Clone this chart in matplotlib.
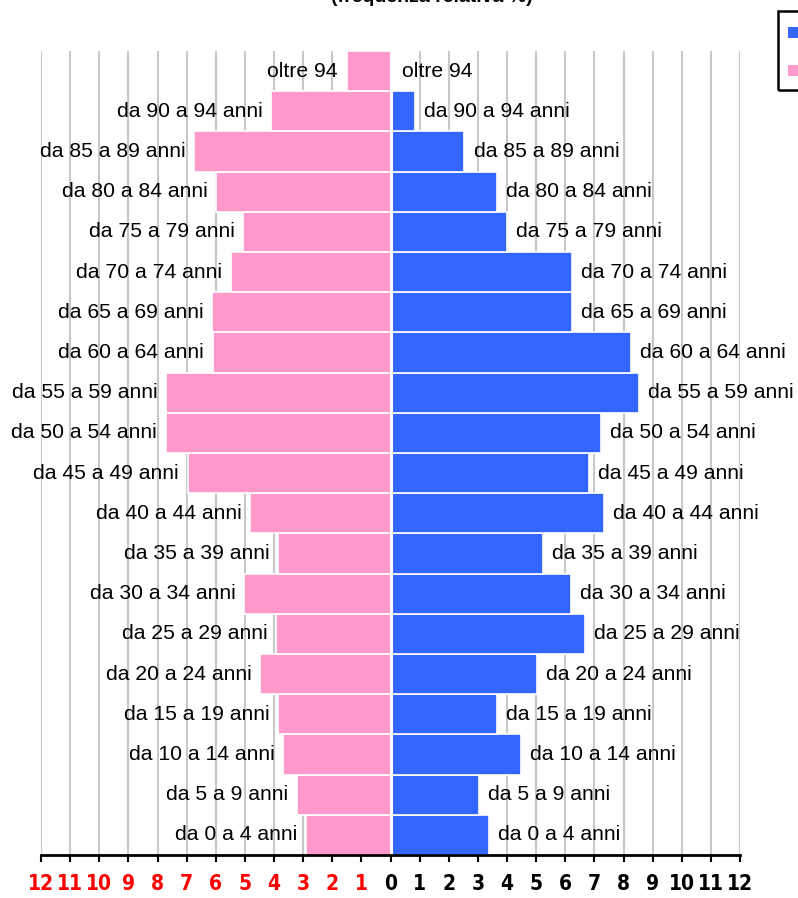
import matplotlib
matplotlib.use('Agg')
import matplotlib.pyplot as plt
from matplotlib import font_manager
from matplotlib.patches import Rectangle

# classi di eta, dal basso verso l'alto
classi = ['da 0 a 4 anni', 'da 5 a 9 anni', 'da 10 a 14 anni', 'da 15 a 19 anni',
          'da 20 a 24 anni', 'da 25 a 29 anni', 'da 30 a 34 anni', 'da 35 a 39 anni',
          'da 40 a 44 anni', 'da 45 a 49 anni', 'da 50 a 54 anni', 'da 55 a 59 anni',
          'da 60 a 64 anni', 'da 65 a 69 anni', 'da 70 a 74 anni', 'da 75 a 79 anni',
          'da 80 a 84 anni', 'da 85 a 89 anni', 'da 90 a 94 anni', 'oltre 94']
maschi = [3.37, 3.03, 4.47, 3.65, 5.02, 6.67, 6.19, 5.23, 7.32, 6.81,
          7.22, 8.53, 8.25, 6.22, 6.22, 3.99, 3.65, 2.54, 0.83, 0.08]
femmine = [2.89, 3.20, 3.68, 3.85, 4.47, 3.92, 5.02, 3.85, 4.81, 6.95,
           7.70, 7.70, 6.09, 6.12, 5.47, 5.05, 5.98, 6.74, 4.09, 1.51]
tick_val = list(range(-12, 13))
titolo = '(frequenza relativa %)'

COL_M = '#3366ff'
COL_F = '#ff99cc'

plt.rcParams['font.family'] = ['Liberation Sans', 'DejaVu Sans']

# font stretto per i numeri dell'asse, se c'e'
tick_font = ['Liberation Sans']
tick_stretch = 'normal'
for fam, st in [('Liberation Sans Narrow', 'normal'), ('DejaVu Sans', 'condensed')]:
    try:
        fp = font_manager.FontProperties(family=fam, stretch=st, weight='bold')
        path = font_manager.findfont(fp, fallback_to_default=False)
        if 'Narrow' in path or 'Condensed' in path:
            tick_font, tick_stretch = [fam], st
            break
    except Exception:
        pass

W, H = 798, 898
fig = plt.figure(figsize=(W / 100, H / 100), dpi=100)
ax = fig.add_axes([41 / W, 43 / H, (740 - 41) / W, (855 - 51) / H])

y = list(range(len(classi)))
ax.barh(y, maschi, height=1.0, color=COL_M, edgecolor='white', linewidth=1.2, zorder=2)
ax.barh(y, [-v for v in femmine], height=1.0, color=COL_F, edgecolor='white', linewidth=1.2, zorder=2)
ax.axvline(0, color='white', lw=2.2, zorder=3)

for i, lab in enumerate(classi):
    ax.annotate(lab, (maschi[i], i), xytext=(6.5, 0), textcoords='offset points',
                ha='left', va='center', fontsize=15.2, color='black', zorder=4,
                annotation_clip=False)
    ax.annotate(lab, (-femmine[i], i), xytext=(-6.5, 0), textcoords='offset points',
                ha='right', va='center', fontsize=15.2, color='black', zorder=4,
                annotation_clip=False)

for t in tick_val:
    if t != 0:
        ax.axvline(t, color='#c8c8c8', lw=1.5, zorder=1)

ax.set_xlim(-12, 12)
ax.set_ylim(-0.5, len(classi) - 0.5)
ax.set_yticks([])
for s in ['top', 'left', 'right']:
    ax.spines[s].set_visible(False)
ax.spines['bottom'].set_linewidth(2)
ax.spines['bottom'].set_zorder(5)
ax.set_xticks(tick_val)
ax.set_xticklabels([str(abs(t)) for t in tick_val], fontweight='bold', fontsize=15,
                   family=tick_font, fontstretch=tick_stretch)
for t, lab in zip(tick_val, ax.get_xticklabels()):
    lab.set_color('red' if t < 0 else 'black')
ax.tick_params(axis='x', direction='out', length=5, width=1.5, pad=9)

# titolo tagliato in alto come nell'originale
fig.text(432 / W, 1 - 2 / H, titolo, ha='center', va='baseline',
         fontsize=14, fontweight='bold')

# legenda tagliata dal bordo destro
fig.patches.append(Rectangle((778 / W, 1 - 90 / H), 60 / W, 79 / H, transform=fig.transFigure,
                             fill=False, edgecolor='black', lw=1.8))
fig.patches.append(Rectangle((788 / W, 1 - 38 / H), 20 / W, 11 / H, transform=fig.transFigure,
                             facecolor=COL_M, edgecolor='none'))
fig.patches.append(Rectangle((788 / W, 1 - 76 / H), 20 / W, 11 / H, transform=fig.transFigure,
                             facecolor=COL_F, edgecolor='none'))

fig.savefig('out.png', dpi=100)
